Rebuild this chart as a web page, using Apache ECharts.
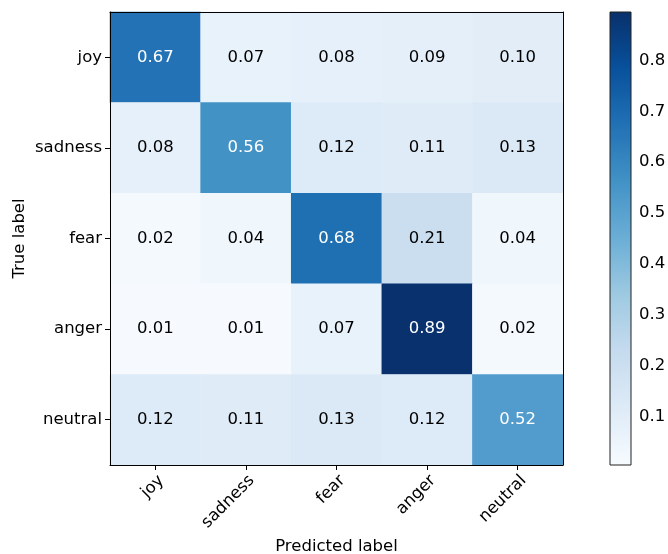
<!DOCTYPE html>
<html>
<head>
<meta charset="utf-8">
<script src="https://cdn.jsdelivr.net/npm/echarts@6/dist/echarts.min.js"></script>
<style>
html,body{margin:0;padding:0;background:#fff;}
#c{width:668px;height:554px;}
</style>
</head>
<body>
<div id="c"></div>
<script>
const predictedLabels = ['joy', 'sadness', 'fear', 'anger', 'neutral'];
const trueLabels = ['joy', 'sadness', 'fear', 'anger', 'neutral'];
const rowJoy     = [0.67, 0.07, 0.08, 0.09, 0.10];
const rowSadness = [0.08, 0.56, 0.12, 0.11, 0.13];
const rowFear    = [0.02, 0.04, 0.68, 0.21, 0.04];
const rowAnger   = [0.01, 0.01, 0.07, 0.89, 0.02];
const rowNeutral = [0.12, 0.11, 0.13, 0.12, 0.52];
const colorbarTicks = [0.1, 0.2, 0.3, 0.4, 0.5, 0.6, 0.7, 0.8];
const colorMin = 0.005;
const colorMax = 0.895;

const rows = [rowJoy, rowSadness, rowFear, rowAnger, rowNeutral];
const blues = ['#f7fbff','#deebf7','#c6dbef','#9ecae1','#6baed6','#4292c6','#2171b5','#08519c','#08306b'];
const FONT = 'DejaVu Sans';
const FS = 16.5;
const thresh = Math.max(...rows.flat()) / 2;

const heatData = [];
rows.forEach((r, yi) => r.forEach((v, xi) => {
  heatData.push({value: [xi, yi, v], label: {color: v > thresh ? '#ffffff' : '#000000'}});
}));

const frameAxis = {
  show: true, z: 10,
  axisLine: {show: true, lineStyle: {color: '#000', width: 1}},
  axisTick: {show: false}, axisLabel: {show: false}, splitLine: {show: false}
};

const chart = echarts.init(document.getElementById('c'), null, {renderer: 'canvas'});
chart.setOption({
  animation: false,
  backgroundColor: '#fff',
  grid: [
    {left: 110, top: 12, width: 453, height: 453, show: false, containLabel: false, outerBoundsMode: 'none'},
    {left: 610, top: 12, width: 21, height: 453, show: false, containLabel: false, outerBoundsMode: 'none'}
  ],
  xAxis: [
    {
      type: 'category', gridIndex: 0, data: predictedLabels, position: 'bottom', z: 10,
      name: 'Predicted label', nameLocation: 'middle', nameGap: 72,
      nameTextStyle: {fontFamily: FONT, fontSize: FS, color: '#000'},
      axisLine: {show: true, lineStyle: {color: '#000', width: 1}},
      axisTick: {show: true, alignWithLabel: true, length: 5, lineStyle: {color: '#000'}},
      axisLabel: {rotate: 45, align: 'right', verticalAlign: 'top', fontFamily: FONT, fontSize: FS, color: '#000', margin: 7},
      splitLine: {show: false}
    },
    {type: 'value', gridIndex: 1, min: 0, max: 1, show: false},
    Object.assign({type: 'category', gridIndex: 0, data: predictedLabels, position: 'top'}, frameAxis)
  ],
  yAxis: [
    {
      type: 'category', gridIndex: 0, data: trueLabels, inverse: true, z: 10,
      name: 'True label', nameLocation: 'middle', nameGap: 82, nameMoveOverlap: false,
      nameTextStyle: {fontFamily: FONT, fontSize: FS, color: '#000'},
      axisLine: {show: true, lineStyle: {color: '#000', width: 1}},
      axisTick: {show: true, alignWithLabel: true, length: 5, lineStyle: {color: '#000'}},
      axisLabel: {fontFamily: FONT, fontSize: FS, color: '#000', margin: 8},
      splitLine: {show: false}
    },
    {
      type: 'value', gridIndex: 1, position: 'right', min: colorMin, max: colorMax,
      axisLine: {show: false},
      axisTick: {show: true, length: 5, lineStyle: {color: '#000'}, customValues: colorbarTicks},
      axisLabel: {fontFamily: FONT, fontSize: FS, color: '#000', margin: 8, customValues: colorbarTicks,
        formatter: v => v.toFixed(1)},
      splitLine: {show: false}
    },
    Object.assign({type: 'category', gridIndex: 0, data: trueLabels, inverse: true, position: 'right'}, frameAxis)
  ],
  visualMap: {
    show: false, type: 'continuous', seriesIndex: 0, dimension: 2,
    min: colorMin, max: colorMax, inRange: {color: blues}
  },
  series: [
    {
      type: 'heatmap', xAxisIndex: 0, yAxisIndex: 0, data: heatData,
      label: {show: true, fontFamily: FONT, fontSize: FS, formatter: p => p.value[2].toFixed(2)},
      itemStyle: {borderWidth: 0},
      emphasis: {disabled: true}
    },
    {
      type: 'custom', xAxisIndex: 1, yAxisIndex: 1, silent: true,
      data: [[0, colorMin, colorMax]],
      renderItem: function (params, api) {
        const p1 = api.coord([0, api.value(2)]);
        const p2 = api.coord([1, api.value(1)]);
        const stops = blues.slice().reverse().map((c, i) => ({offset: i / (blues.length - 1), color: c}));
        return {
          type: 'rect',
          shape: {x: p1[0], y: p1[1], width: p2[0] - p1[0], height: p2[1] - p1[1]},
          style: {fill: new echarts.graphic.LinearGradient(0, 0, 0, 1, stops), stroke: '#222', lineWidth: 1}
        };
      }
    }
  ]
});
</script>
</body>
</html>
